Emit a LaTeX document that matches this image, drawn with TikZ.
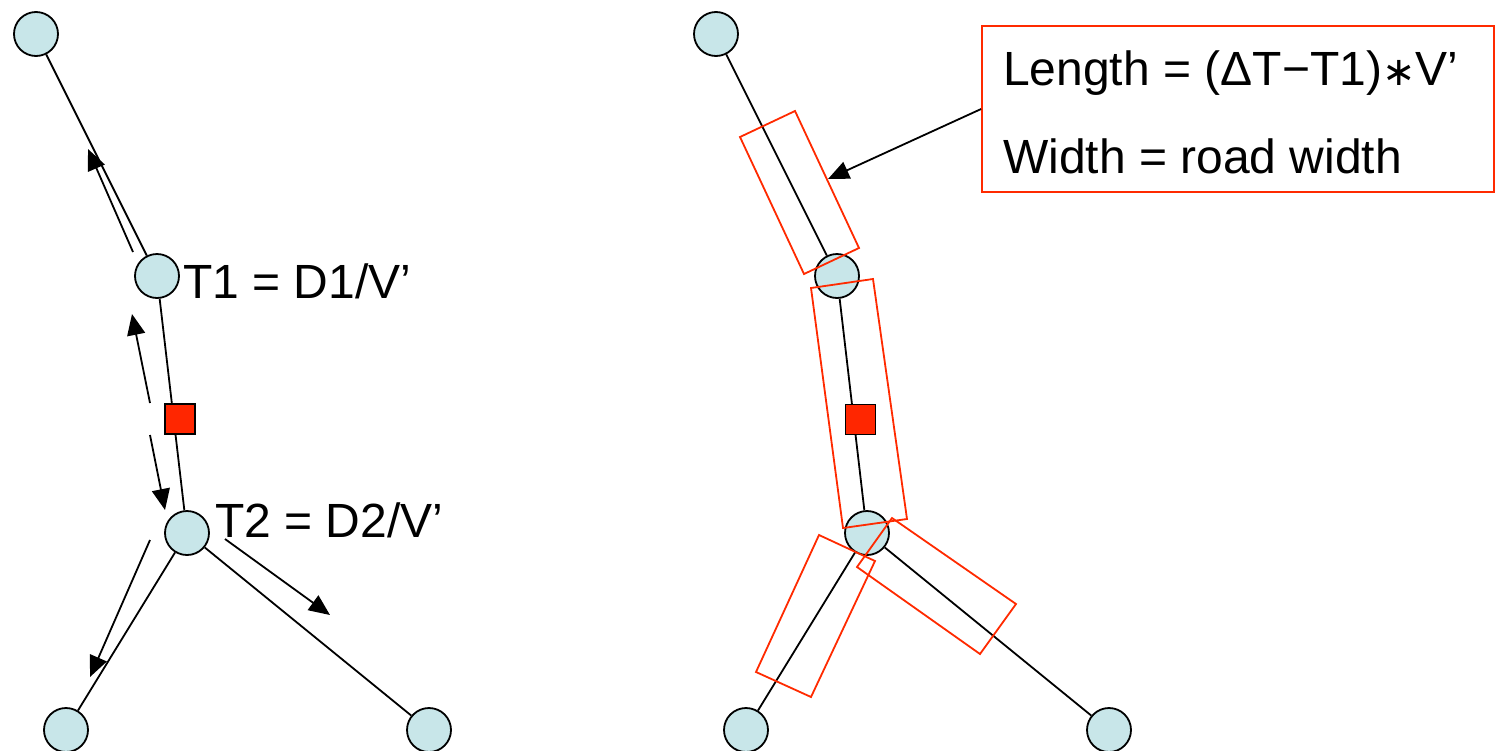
\documentclass[tikz,border=0pt]{standalone}
\usepackage{fontspec}
\setmainfont{Liberation Sans}
\newfontfamily\symfont{DejaVu Sans}
\usetikzlibrary{arrows.meta,backgrounds}
\definecolor{nodeblue}{RGB}{200,230,233}
\definecolor{zonered}{RGB}{255,42,0}
\definecolor{markred}{RGB}{255,38,0}
\begin{document}
\begin{tikzpicture}[x=1pt,y=-1pt,
  city/.style={circle, draw, line width=1.8pt, fill=nodeblue, minimum size=44pt, inner sep=0pt},
  marker/.style={rectangle, draw, line width=1.8pt, fill=markred, minimum size=30pt, inner sep=0pt},
  road/.style={line width=1.8pt},
  flow/.style={line width=1.8pt, -{Triangle[length=21pt,width=18pt]}},
  lbl/.style={anchor=base west, inner sep=0pt, font=\fontsize{48}{58}\selectfont},
  zone/.style={draw=zonered, line width=1.8pt, line join=miter}]
\useasboundingbox (0,0) rectangle (1499,750);

% ---------- left diagram ----------
\node[city] (la) at (36,34) {};
\node[city] (lt1) at (157,276) {};
\node[marker] (lsq) at (180,419) {};
\node[city] (lt2) at (187,533) {};
\node[city] (lbl) at (66,730) {};
\node[city] (lbr) at (429,730) {};
\begin{scope}[on background layer]
  \draw[road] (la) -- (lt1);
  \draw[road] (lt1) -- (lt2);
  \draw[road] (lt2) -- (lbl);
  \draw[road] (lt2) -- (lbr);
\end{scope}
\node[lbl] (t1lab) at (183,298) {T1 = D1/V’};
\node[lbl] (t2lab) at (215,537) {T2 = D2/V’};

\coordinate (a1s) at (133,252); \coordinate (a1e) at (88,149);
\coordinate (a2s) at (150,403); \coordinate (a2e) at (132,314);
\coordinate (a3s) at (150,435); \coordinate (a3e) at (165,510);
\coordinate (a4s) at (225,539); \coordinate (a4e) at (330,615);
\coordinate (a5s) at (150,540); \coordinate (a5e) at (90,677);
\draw[flow] (a1s) -- (a1e);
\draw[flow] (a2s) -- (a2e);
\draw[flow] (a3s) -- (a3e);
\draw[flow] (a4s) -- (a4e);
\draw[flow] (a5s) -- (a5e);

% ---------- right diagram ----------
\node[city] (ra) at (716,34) {};
\node[city] (rt1) at (837,276) {};
\node[marker] (rsq) at (860.5,419.5) {};
\node[city] (rt2) at (867,533) {};
\node[city] (rbl) at (746,730) {};
\node[city] (rbr) at (1109,730) {};
\begin{scope}[on background layer]
  \draw[road] (ra) -- (rt1);
  \draw[road] (rt1) -- (rt2);
  \draw[road] (rt2) -- (rbl);
  \draw[road] (rt2) -- (rbr);
\end{scope}

\draw[zone] (740,137) -- (795,111) -- (859,248) -- (804,274) -- cycle;
\draw[zone] (811,288) -- (873,279) -- (907,519) -- (843,528) -- cycle;
\draw[zone] (819,535) -- (875,561) -- (811,697) -- (756,672) -- cycle;
\draw[zone] (892,518) -- (1016,604) -- (980,654) -- (857,567) -- cycle;

\node[draw=zonered, line width=1.8pt, minimum width=512pt, minimum height=166pt, inner sep=0pt] (box) at (1238,109) {};
\node[lbl] (lenlab) at (1003,85) {Length = (ΔT−T1){\symfont\fontsize{40}{48}\selectfont ∗}V’};
\node[lbl] (widlab) at (1003,173) {Width = road width};
\coordinate (boxtip) at (828,179);
\draw[flow] (box.west) -- (boxtip);
\end{tikzpicture}
\end{document}
